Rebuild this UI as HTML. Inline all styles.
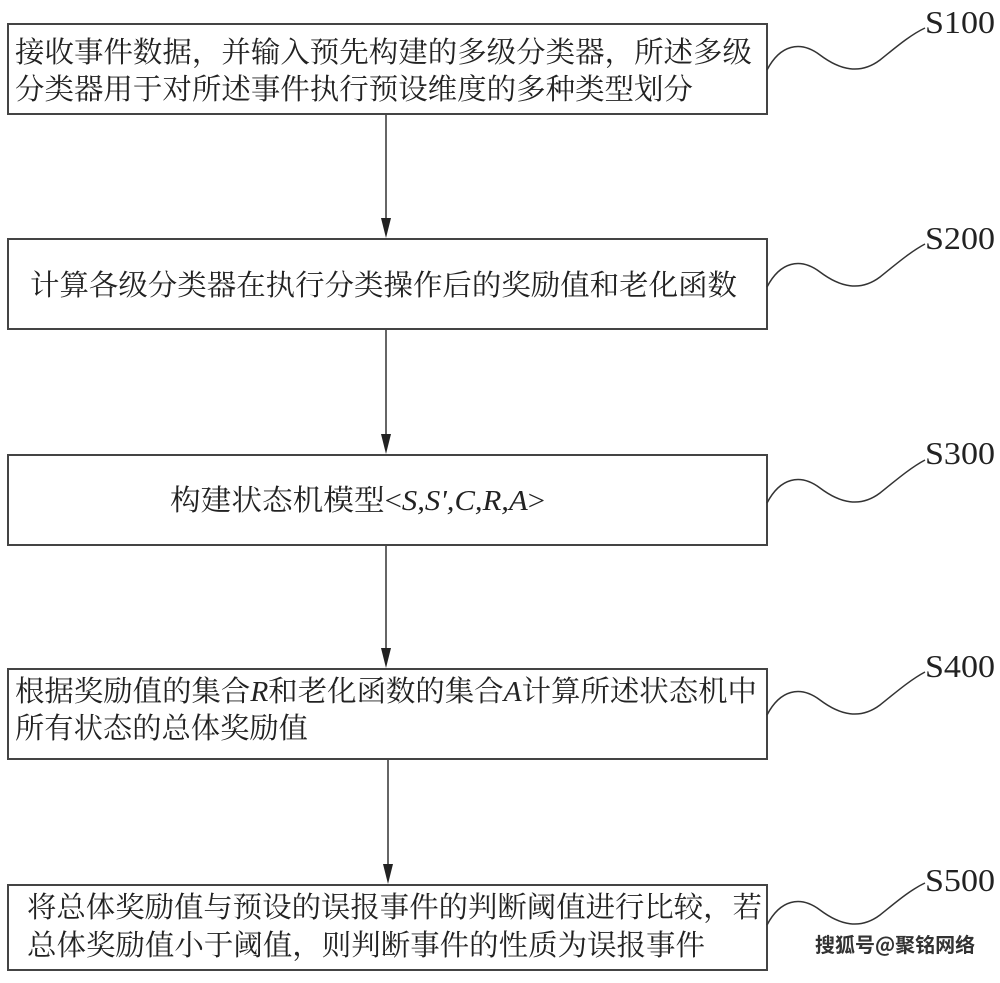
<!DOCTYPE html>
<html><head><meta charset="utf-8"><style>
body{margin:0;background:#fff;}
svg text{font-family:"Liberation Serif","Noto Serif CJK SC","Noto Serif CJK JP",serif;fill:#222;}
</style></head><body>
<svg width="1000" height="978" viewBox="0 0 1000 978" xmlns="http://www.w3.org/2000/svg">
<g fill="none" stroke="#444" stroke-width="2">
<rect x="8" y="24" width="759" height="90"/>
<rect x="8" y="239" width="759" height="90"/>
<rect x="8" y="455" width="759" height="90"/>
<rect x="8" y="669" width="759" height="90"/>
<rect x="8" y="885" width="759" height="85"/>
</g>
<g stroke="#333" stroke-width="1.5">
<line x1="386" y1="115" x2="386" y2="225"/>
<line x1="386" y1="330" x2="386" y2="440"/>
<line x1="386" y1="546" x2="386" y2="655"/>
<line x1="388" y1="760" x2="388" y2="870"/>
</g>
<g fill="#222">
<path d="M381,218 L391,218 L386,238 Z"/>
<path d="M381,434 L391,434 L386,454 Z"/>
<path d="M381,648 L391,648 L386,668 Z"/>
<path d="M383,864 L393,864 L388,884 Z"/>
</g>
<g fill="none" stroke="#333" stroke-width="1.5">
<path d="M767,70 C780,45 800,40 820,55 C840,70 860,75 880,60 C895,48 910,35 925,28"/>
<path d="M767,287 C780,262 800,257 820,272 C840,287 860,292 880,277 C895,265 910,252 925,244"/>
<path d="M767,503 C780,478 800,473 820,488 C840,503 860,508 880,493 C895,481 910,468 925,460"/>
<path d="M767,715 C780,690 800,685 820,700 C840,715 860,720 880,705 C895,693 910,680 925,672"/>
<path d="M767,925 C780,900 800,895 820,910 C840,925 860,930 880,915 C895,903 910,890 925,883"/>
</g>
<g font-size="32">
<text x="925" y="33" textLength="70" lengthAdjust="spacingAndGlyphs">S100</text>
<text x="925" y="249" textLength="70" lengthAdjust="spacingAndGlyphs">S200</text>
<text x="925" y="464" textLength="70" lengthAdjust="spacingAndGlyphs">S300</text>
<text x="925" y="677" textLength="70" lengthAdjust="spacingAndGlyphs">S400</text>
<text x="925" y="891" textLength="70" lengthAdjust="spacingAndGlyphs">S500</text>
</g>
<g font-size="29">
<text x="15" y="62" textLength="737" lengthAdjust="spacingAndGlyphs">接收事件数据，并输入预先构建的多级分类器，所述多级</text>
<text x="15" y="99" textLength="678" lengthAdjust="spacingAndGlyphs">分类器用于对所述事件执行预设维度的多种类型划分</text>
<text x="30" y="295" textLength="707" lengthAdjust="spacingAndGlyphs">计算各级分类器在执行分类操作后的奖励值和老化函数</text>
<text x="170" y="510" textLength="375" lengthAdjust="spacingAndGlyphs">构建状态机模型&lt;<tspan font-style="italic">S,S',C,R,A</tspan>&gt;</text>
<text x="15" y="701" textLength="742" lengthAdjust="spacingAndGlyphs">根据奖励值的集合<tspan font-style="italic">R</tspan>和老化函数的集合<tspan font-style="italic">A</tspan>计算所述状态机中</text>
<text x="15" y="738" textLength="293" lengthAdjust="spacingAndGlyphs">所有状态的总体奖励值</text>
<text x="27" y="917" textLength="735" lengthAdjust="spacingAndGlyphs">将总体奖励值与预设的误报事件的判断阈值进行比较，若</text>
<text x="27" y="955" textLength="678" lengthAdjust="spacingAndGlyphs">总体奖励值小于阈值，则判断事件的性质为误报事件</text>
</g>
<text x="815" y="952" font-size="20" font-weight="bold" style="font-family:'Noto Sans CJK SC',sans-serif;fill:#333">搜狐号@聚铭网络</text>
</svg>
</body></html>
